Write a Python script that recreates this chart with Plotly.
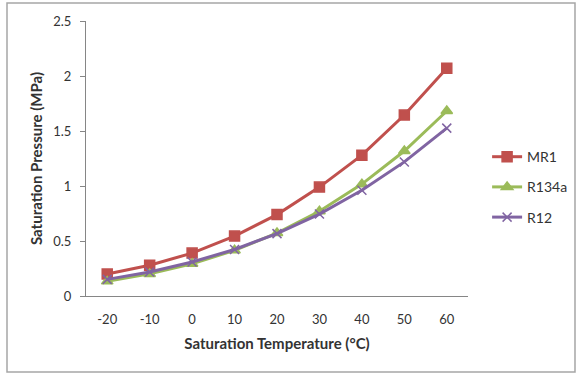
import plotly.graph_objects as go

# Saturation temperature (°C) and saturation pressure (MPa) for each refrigerant
temperature = [-20, -10, 0, 10, 20, 30, 40, 50, 60]
mr1 = [0.20, 0.28, 0.39, 0.545, 0.74, 0.99, 1.28, 1.645, 2.07]
r134a = [0.133, 0.201, 0.293, 0.415, 0.572, 0.770, 1.017, 1.318, 1.682]
r12 = [0.151, 0.219, 0.309, 0.423, 0.567, 0.745, 0.961, 1.219, 1.526]
y_ticks = [0, 0.5, 1, 1.5, 2, 2.5]
y_tick_text = ["0", "0.5", "1", "1.5", "2", "2.5"]

FONT = "Lato"
series = [
    ("MR1", mr1, "#C0504D", "square", 10),
    ("R134a", r134a, "#9BBB59", "triangle-up", 10),
    ("R12", r12, "#8064A2", "x-thin", 9),
]

fig = go.Figure()
for i, (name, vals, color, symbol, size) in enumerate(series):
    fig.add_trace(go.Scatter(
        x=temperature, y=vals, name=name, mode="lines+markers",
        legendgroup=f"g{i}",
        line=dict(color=color, width=3),
        marker=dict(symbol=symbol, size=size, color=color,
                    line=dict(color=color, width=1.5)),
    ))

# outer chart border
fig.add_shape(type="rect", xref="paper", yref="paper",
              x0=-0.2068, x1=1.2801, y0=-0.2764, y1=1.0655,
              line=dict(color="#A6A6A6", width=1.5), fillcolor="rgba(0,0,0,0)")

fig.update_layout(
    width=581, height=378,
    margin=dict(l=86, r=113, t=21, b=82, autoexpand=False),
    paper_bgcolor="white", plot_bgcolor="white",
    font=dict(family=FONT, size=13, color="#333333"),
    showlegend=True,
    legend=dict(x=1.05, y=0.396, xanchor="left", yanchor="middle",
                tracegroupgap=9, font=dict(size=14, color="#333333"),
                bgcolor="rgba(0,0,0,0)"),
    xaxis=dict(
        range=[-25, 65], tickmode="array", tickvals=temperature,
        ticktext=[str(t) for t in temperature],
        showgrid=False, zeroline=False, showline=True,
        linecolor="#868686", linewidth=1,
        ticks="outside", ticklen=11, tickcolor="rgba(0,0,0,0)",
        title=dict(text="<b>Saturation Temperature (°C)</b>",
                   font=dict(size=15, color="#333333"), standoff=12),
    ),
    yaxis=dict(
        range=[0, 2.5], tickmode="array", tickvals=y_ticks, ticktext=y_tick_text,
        showgrid=False, zeroline=False, showline=True,
        linecolor="#868686", linewidth=1,
        ticks="outside", ticklen=5, tickcolor="#868686",
        ticklabelstandoff=6,
        title=dict(text="<b>Saturation Pressure (MPa)</b>",
                   font=dict(size=15, color="#333333"), standoff=6),
    ),
)

fig.write_html("out.html")
